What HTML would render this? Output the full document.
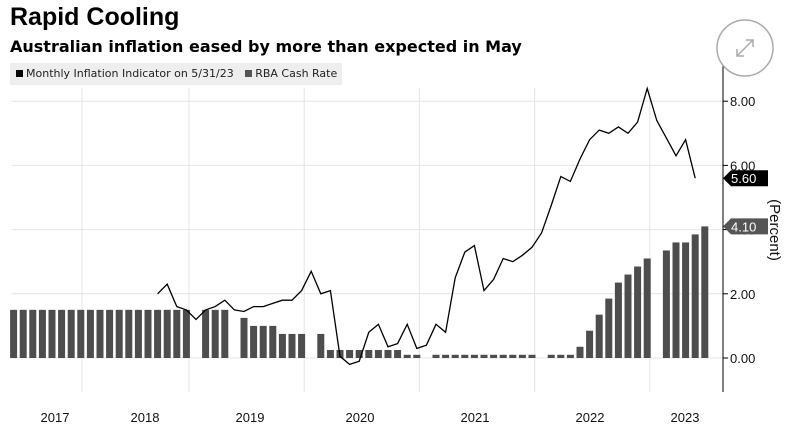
<!DOCTYPE html>
<html><head><meta charset="utf-8"><style>
body{margin:0;background:#fff;font-family:"Liberation Sans",sans-serif;}
#wrap{position:relative;width:788px;height:427px;overflow:hidden;}
.t{position:absolute;white-space:nowrap;}
</style></head><body>
<div id="wrap">
<div class="t" style="left:10px;top:3px;font-size:25px;font-weight:bold;color:#000">Rapid Cooling</div>
<div class="t" style="left:10px;top:37px;font-size:16px;font-weight:bold;color:#000;font-family:'DejaVu Sans',sans-serif">Australian inflation eased by more than expected in May</div>
<div class="t" style="left:10px;top:63px;width:332px;height:22px;background:#eee;font-size:11px;color:#222;line-height:22px;font-family:'DejaVu Sans',sans-serif">
<span style="margin-left:6px"><span style="display:inline-block;width:7px;height:7px;background:#000;margin-right:3px"></span>Monthly Inflation Indicator on 5/31/23</span>
<span style="margin-left:8px"><span style="display:inline-block;width:7px;height:7px;background:#555;margin-right:3px"></span>RBA Cash Rate</span>
</div>
<svg id="chart" width="788" height="427" style="position:absolute;left:0;top:0"></svg>
</div>
<script>
const rateMonths=[];const rateValues=[];
// months indexed from Jan 2019 (m=0)
const rateData=[[-19,1.5],[-18,1.5],[-17,1.5],[-16,1.5],[-15,1.5],[-14,1.5],[-13,1.5],[-12,1.5],[-11,1.5],[-10,1.5],[-9,1.5],[-8,1.5],[-7,1.5],[-6,1.5],[-5,1.5],[-4,1.5],[-3,1.5],[-2,1.5],[-1,1.5],
[1,1.5],[2,1.5],[3,1.5],[5,1.25],[6,1.0],[7,1.0],[8,1.0],[9,0.75],[10,0.75],[11,0.75],[13,0.75],
[14,0.25],[15,0.25],[16,0.25],[17,0.25],[18,0.25],[19,0.25],[20,0.25],[21,0.25],[22,0.1],[23,0.1],
[25,0.1],[26,0.1],[27,0.1],[28,0.1],[29,0.1],[30,0.1],[31,0.1],[32,0.1],[33,0.1],[34,0.1],[35,0.1],
[37,0.1],[38,0.1],[39,0.1],[40,0.35],[41,0.85],[42,1.35],[43,1.85],[44,2.35],[45,2.6],[46,2.85],[47,3.1],
[49,3.35],[50,3.6],[51,3.6],[52,3.85],[53,4.1]];
rateData.forEach(d=>{rateMonths.push(d[0]);rateValues.push(d[1]);});
const inflStart=-4;
const inflValues=[2.0,2.3,1.6,1.5,1.2,1.5,1.6,1.8,1.5,1.45,1.6,1.6,1.7,1.8,1.8,2.1,2.7,2.0,2.1,0.05,-0.2,-0.1,0.8,1.05,0.35,0.45,
1.05,0.3,0.4,1.05,0.8,2.5,3.3,3.5,2.1,2.45,3.1,3.0,3.2,3.45,3.9,4.75,5.65,5.5,6.2,6.8,7.1,7.0,7.2,7.0,7.35,8.4,7.4,6.85,6.3,6.8,5.6];
const yTicks=[0,2,4,6,8];
const yTickLabels=["0.00","2.00","4.00","6.00","8.00"];
const years=["2017","2018","2019","2020","2021","2022","2023"];
const yearMonths=[-24,-12,0,12,24,36,48];
const yearLabelX=[55,145,250,360,475,590,685];

const svg=document.getElementById('chart');const NS='http://www.w3.org/2000/svg';
function X(m){return 196+9.6*m;}
function Y(v){return 358-32.1*v;}
function mk(tag,attrs,parent){const e=document.createElementNS(NS,tag);for(const k in attrs)e.setAttribute(k,attrs[k]);(parent||svg).appendChild(e);return e;}
yTicks.forEach((v,i)=>{
 const g=mk('line',{x1:12,x2:723,y1:Y(v),y2:Y(v),stroke:'#e4e4e4','stroke-width':1});
 
 
 mk('line',{x1:723,x2:728,y1:Y(v),y2:Y(v),stroke:'#000'});
 const t=mk('text',{x:730,y:Y(v)+5,'font-size':13,fill:'#111'});t.textContent=yTickLabels[i];
 
 
});
yearMonths.forEach((m,i)=>{
 if(i>0){const gx=(i===1)?82:X(m)-7;
 const g=mk('line',{x1:gx,x2:gx,y1:88,y2:392,stroke:'#e4e4e4'});
 
 }
 const t=mk('text',{x:yearLabelX[i],y:422,'font-size':13,fill:'#111','text-anchor':'middle'});t.textContent=years[i];
 
 
});
rateMonths.forEach((m,i)=>{
 const v=rateValues[i];
 const b=mk('rect',{x:X(m)-3.5,y:Y(v),width:7,height:Y(0)-Y(v),fill:'#4d4d4d'});
 
 
});
const pts=inflValues.map((v,i)=>X(inflStart+i).toFixed(1)+','+Y(v).toFixed(1)).join(' ');
const ln=mk('polyline',{points:pts,fill:'none',stroke:'#000','stroke-width':1.3});


const ax=mk('line',{x1:723,x2:723,y1:38,y2:392,stroke:'#000'});


function badge(v,fill,name){
 const y=Y(v);
 const p=mk('path',{d:`M723,${y} L731,${y-8} L768,${y-8} L768,${y+8} L731,${y+8} Z`,fill:fill});
 
 
 const t=mk('text',{x:731,y:y+5,'font-size':13,fill:'#fff'});t.textContent=v.toFixed(2);
 
 
}
badge(inflValues[inflValues.length-1],'#000','inflation-last-value');
badge(rateValues[rateValues.length-1],'#555','cash-rate-last-value');
const yt=mk('text',{x:0,y:0,'font-size':15,fill:'#111','text-anchor':'middle',transform:'translate(770,230) rotate(90)'});
yt.textContent='(Percent)';


const c=mk('circle',{cx:745,cy:48,r:28,fill:'#fff',stroke:'#aaa','stroke-width':1.5});


const ic=mk('path',{d:'M737,56 L753,40 M746,40 L753,40 L753,47 M737,49 L737,56 L744,56',fill:'none',stroke:'#aaa','stroke-width':1.5});


</script>
</body></html>
